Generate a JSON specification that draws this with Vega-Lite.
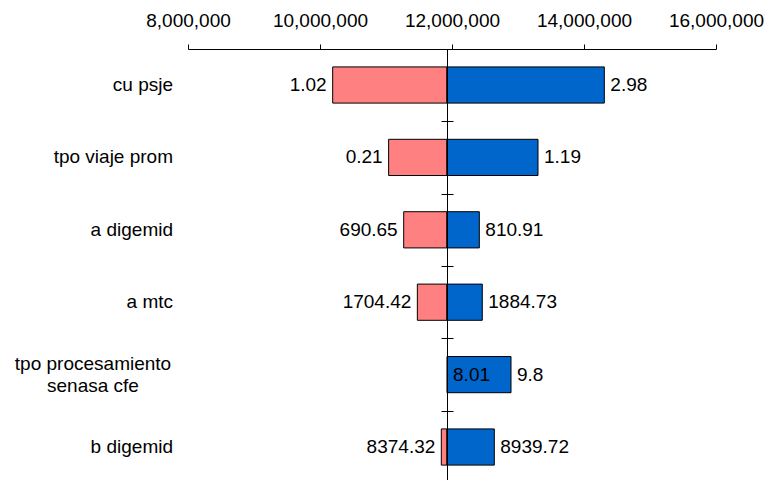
{
  "$schema": "https://vega.github.io/schema/vega-lite/v6.json",
  "width": 528,
  "height": 431,
  "autosize": {"type": "none"},
  "padding": {"left": 188, "top": 49, "right": 53, "bottom": 0},
  "background": "white",
  "config": {
    "view": {"stroke": null},
    "font": "Liberation Sans",
    "axis": {"labelFont": "Liberation Sans", "labelColor": "black", "domainColor": "black", "tickColor": "black", "domainWidth": 1, "tickWidth": 1, "grid": false}
  },
  "data": {
    "values": [
      {"cat": "cu psje", "label": "cu psje", "low": 10192000, "high": 14308000, "base": 11924000, "lowText": "1.02", "highText": "2.98"},
      {"cat": "tpo viaje prom", "label": "tpo viaje prom", "low": 11040000, "high": 13303000, "base": 11924000, "lowText": "0.21", "highText": "1.19"},
      {"cat": "a digemid", "label": "a digemid", "low": 11268000, "high": 12414000, "base": 11924000, "lowText": "690.65", "highText": "810.91"},
      {"cat": "a mtc", "label": "a mtc", "low": 11475000, "high": 12459000, "base": 11924000, "lowText": "1704.42", "highText": "1884.73"},
      {"cat": "tpo procesamiento senasa cfe", "label": "tpo procesamiento\nsenasa cfe", "low": 12667000, "high": 12894000, "base": 11924000, "lowText": "8.01", "highText": "9.8"},
      {"cat": "b digemid", "label": "b digemid", "low": 11838000, "high": 12641000, "base": 11924000, "lowText": "8374.32", "highText": "8939.72"}
    ]
  },
  "layer": [
    {
      "mark": {"type": "bar", "fill": "#FF8080", "stroke": "black", "strokeWidth": 1},
      "encoding": {
        "y": {"field": "cat", "type": "nominal", "sort": null,
              "scale": {"paddingInner": 0.5, "paddingOuter": 0.2265, "align": 0.546},
              "axis": {"orient": "left", "offset": -259, "labels": false, "title": null, "domain": true, "ticks": true, "tickSize": 6, "tickOffset": 36.2, "zindex": 1}},
        "x": {"field": "low", "type": "quantitative",
              "scale": {"domain": [8000000, 16000000], "nice": false, "zero": false},
              "axis": {"orient": "top", "values": [8000000, 10000000, 12000000, 14000000, 16000000], "format": ",d", "labelFontSize": 19, "tickSize": 5, "labelPadding": 14, "title": null, "labelFlush": false, "labelOverlap": false}},
        "x2": {"field": "base"},
        "opacity": {"condition": {"test": "datum.low > datum.base", "value": 0}, "value": 1}
      }
    },
    {
      "mark": {"type": "bar", "fill": "#0066CC", "stroke": "black", "strokeWidth": 1},
      "encoding": {
        "y": {"field": "cat", "type": "nominal", "sort": null,
              "axis": {"orient": "right", "offset": -269, "labels": false, "title": null, "domain": false, "ticks": true, "tickSize": 6, "tickOffset": 36.2, "zindex": 1}},
        "x": {"field": "high", "type": "quantitative"},
        "x2": {"field": "base"}
      }
    },
    {
      "mark": {"type": "text", "align": "right", "baseline": "middle", "dx": -6, "fontSize": 19, "color": "black"},
      "encoding": {
        "y": {"field": "cat", "type": "nominal", "sort": null, "axis": null},
        "x": {"field": "low", "type": "quantitative"},
        "text": {"field": "lowText"}
      }
    },
    {
      "mark": {"type": "text", "align": "left", "baseline": "middle", "dx": 6, "fontSize": 19, "color": "black"},
      "encoding": {
        "y": {"field": "cat", "type": "nominal", "sort": null, "axis": null},
        "x": {"field": "high", "type": "quantitative"},
        "text": {"field": "highText"}
      }
    },
    {
      "transform": [{"filter": "datum.cat != 'tpo procesamiento senasa cfe'"}],
      "mark": {"type": "text", "align": "right", "baseline": "middle", "dx": -15, "fontSize": 19, "color": "black"},
      "encoding": {
        "y": {"field": "cat", "type": "nominal", "sort": null, "axis": null},
        "x": {"datum": 8000000, "type": "quantitative"},
        "text": {"field": "label"}
      }
    },
    {
      "transform": [{"filter": "datum.cat == 'tpo procesamiento senasa cfe'"}],
      "mark": {"type": "text", "align": "center", "baseline": "middle", "dx": -95, "dy": -11, "fontSize": 19, "lineBreak": "\n", "lineHeight": 22, "color": "black"},
      "encoding": {
        "y": {"field": "cat", "type": "nominal", "sort": null, "axis": null},
        "x": {"datum": 8000000, "type": "quantitative"},
        "text": {"field": "label"}
      }
    }
  ],
  "resolve": {"axis": {"y": "independent"}}
}
